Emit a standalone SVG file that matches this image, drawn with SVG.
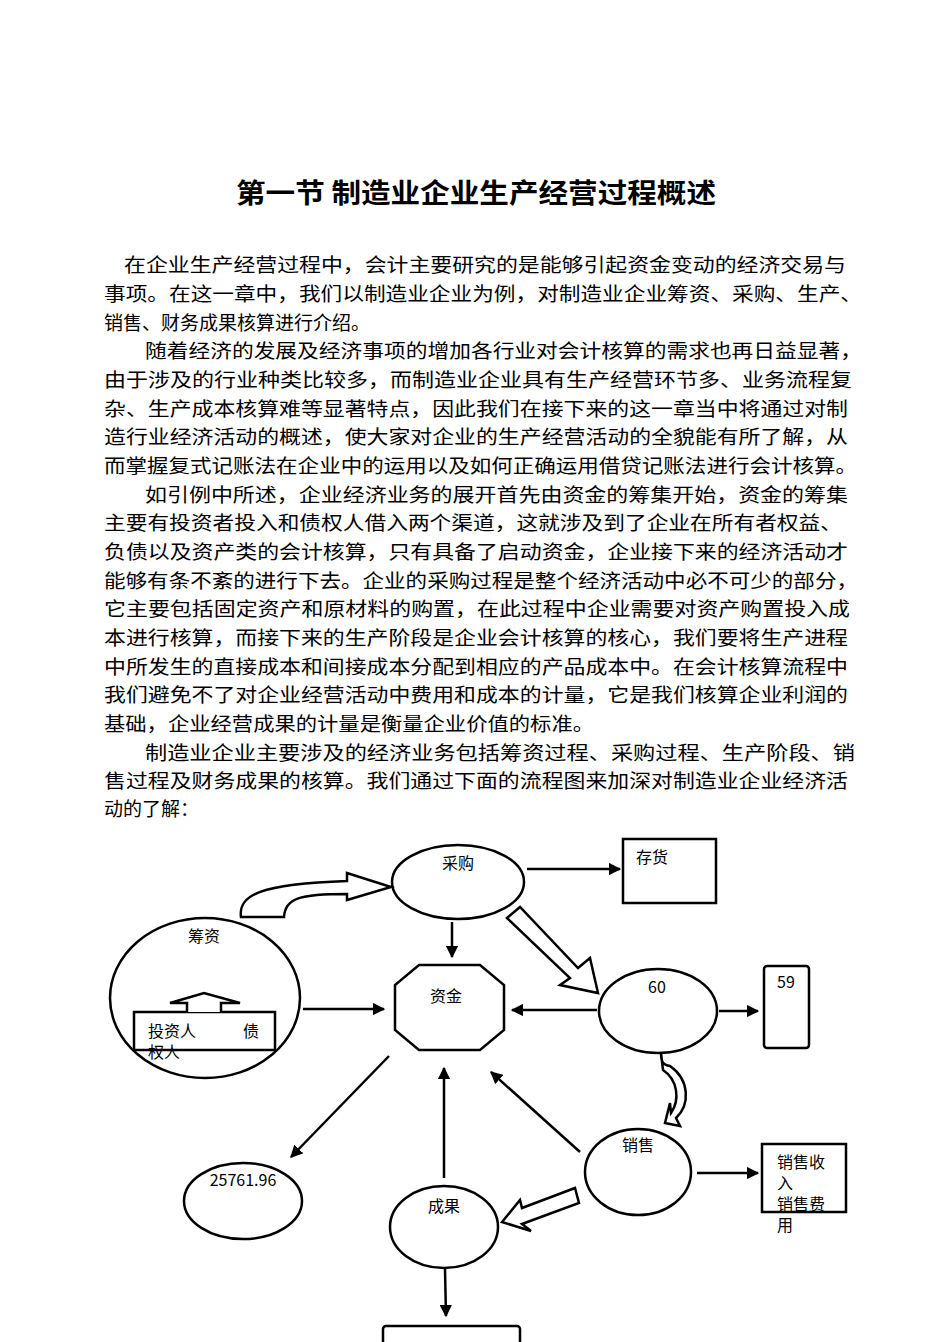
<svg xmlns="http://www.w3.org/2000/svg" width="950" height="1342" viewBox="0 0 950 1342">
<style>
.b{font-family:"Noto Sans CJK SC","Liberation Serif",serif;font-size:19px;fill:#000}
.t{font-family:"Noto Sans CJK SC",sans-serif;font-size:27px;font-weight:bold;fill:#000}
.n{font-family:"Noto Sans CJK SC","Liberation Serif",serif;font-size:16px;fill:#000}
.s{fill:#fff;stroke:#000;stroke-width:2.5}
.l{stroke:#000;stroke-width:2.5;fill:none}
</style>
<defs><marker id="a" viewBox="0 0 10 10" refX="9" refY="5" markerWidth="5" markerHeight="5" orient="auto"><path d="M0,0L10,5L0,10z" fill="#000"/></marker></defs>
<text class="t" x="236" y="203" textLength="480" lengthAdjust="spacingAndGlyphs">第一节 制造业企业生产经营过程概述</text>
<g class="b">
<text x="124" y="272" textLength="722" lengthAdjust="spacingAndGlyphs">在企业生产经营过程中，会计主要研究的是能够引起资金变动的经济交易与</text>
<text x="104" y="301" textLength="758" lengthAdjust="spacingAndGlyphs">事项。在这一章中，我们以制造业企业为例，对制造业企业筹资、采购、生产、</text>
<text x="104" y="330">销售、财务成果核算进行介绍。</text>
<text x="145" y="358" textLength="717" lengthAdjust="spacingAndGlyphs">随着经济的发展及经济事项的增加各行业对会计核算的需求也再日益显著，</text>
<text x="104" y="387" textLength="748" lengthAdjust="spacingAndGlyphs">由于涉及的行业种类比较多，而制造业企业具有生产经营环节多、业务流程复</text>
<text x="104" y="416" textLength="744" lengthAdjust="spacingAndGlyphs">杂、生产成本核算难等显著特点，因此我们在接下来的这一章当中将通过对制</text>
<text x="104" y="444" textLength="744" lengthAdjust="spacingAndGlyphs">造行业经济活动的概述，使大家对企业的生产经营活动的全貌能有所了解，从</text>
<text x="104" y="473" textLength="753" lengthAdjust="spacingAndGlyphs">而掌握复式记账法在企业中的运用以及如何正确运用借贷记账法进行会计核算。</text>
<text x="145" y="502" textLength="703" lengthAdjust="spacingAndGlyphs">如引例中所述，企业经济业务的展开首先由资金的筹集开始，资金的筹集</text>
<text x="104" y="530" textLength="738" lengthAdjust="spacingAndGlyphs">主要有投资者投入和债权人借入两个渠道，这就涉及到了企业在所有者权益、</text>
<text x="104" y="559" textLength="744" lengthAdjust="spacingAndGlyphs">负债以及资产类的会计核算，只有具备了启动资金，企业接下来的经济活动才</text>
<text x="104" y="588" textLength="754" lengthAdjust="spacingAndGlyphs">能够有条不紊的进行下去。企业的采购过程是整个经济活动中必不可少的部分，</text>
<text x="104" y="616" textLength="746" lengthAdjust="spacingAndGlyphs">它主要包括固定资产和原材料的购置，在此过程中企业需要对资产购置投入成</text>
<text x="104" y="645" textLength="744" lengthAdjust="spacingAndGlyphs">本进行核算，而接下来的生产阶段是企业会计核算的核心，我们要将生产进程</text>
<text x="104" y="674" textLength="744" lengthAdjust="spacingAndGlyphs">中所发生的直接成本和间接成本分配到相应的产品成本中。在会计核算流程中</text>
<text x="104" y="702" textLength="744" lengthAdjust="spacingAndGlyphs">我们避免不了对企业经营活动中费用和成本的计量，它是我们核算企业利润的</text>
<text x="104" y="731" textLength="490" lengthAdjust="spacingAndGlyphs">基础，企业经营成果的计量是衡量企业价值的标准。</text>
<text x="145" y="760" textLength="710" lengthAdjust="spacingAndGlyphs">制造业企业主要涉及的经济业务包括筹资过程、采购过程、生产阶段、销</text>
<text x="104" y="788" textLength="744" lengthAdjust="spacingAndGlyphs">售过程及财务成果的核算。我们通过下面的流程图来加深对制造业企业经济活</text>
<text x="104" y="816">动的了解：</text>
</g>
<g id="caigou"><ellipse class="s" cx="458" cy="882" rx="66" ry="37"/><text class="n" x="458" y="869" text-anchor="middle">采购</text></g>
<g id="cunhuo"><rect class="s" x="623" y="839" width="93" height="64"/><text class="n" x="636" y="863">存货</text></g>
<g id="chouzi"><ellipse class="s" cx="205" cy="998" rx="95" ry="80"/><text class="n" x="204" y="942" text-anchor="middle">筹资</text>
<rect class="s" x="134" y="1012" width="141" height="38"/>
<path class="s" d="M187,1012V1003H170L204,993L240,1003H221V1012"/>
<text class="n" x="148" y="1037">投资人</text><text class="n" x="243" y="1037">债</text><text class="n" x="148" y="1058">权人</text></g>
<g id="zijin"><path class="s" d="M419,965H480L504,985V1030L480,1050H419L395,1030V985Z"/><text class="n" x="446" y="1002" text-anchor="middle">资金</text></g>
<g id="n60"><ellipse class="s" cx="658" cy="1011" rx="59" ry="42"/><text class="n" x="657" y="993" text-anchor="middle">60</text></g>
<g id="n59"><rect class="s" x="764" y="966" width="45" height="82" rx="3"/><text class="n" x="786" y="988" text-anchor="middle">59</text></g>
<g id="xiaoshou"><ellipse class="s" cx="638" cy="1172" rx="53" ry="43"/><text class="n" x="638" y="1151" text-anchor="middle">销售</text></g>
<g id="shouru"><rect class="s" x="762" y="1144" width="84" height="68"/>
<text class="n" x="777" y="1168">销售收</text><text class="n" x="777" y="1189">入</text><text class="n" x="777" y="1210">销售费</text><text class="n" x="777" y="1231">用</text></g>
<g id="n25761"><ellipse class="s" cx="243" cy="1201" rx="59" ry="38"/><text class="n" x="243" y="1186" text-anchor="middle">25761.96</text></g>
<g id="chengguo"><ellipse class="s" cx="444" cy="1227" rx="54" ry="41"/><text class="n" x="444" y="1212" text-anchor="middle">成果</text></g>
<g id="bottom"><rect class="s" x="383" y="1326" width="137" height="30" rx="3"/></g>
<g id="connectors">
<path class="s" stroke-width="2" d="M241,917C238,895 260,884 347,881V873L391,887L347,900V894C300,894 285,898 284,917Z"/>
<line class="l" x1="303" y1="1009" x2="384" y2="1009" marker-end="url(#a)"/>
<line class="l" x1="452" y1="922" x2="452" y2="957" marker-end="url(#a)"/>
<line class="l" x1="527" y1="869" x2="620" y2="869" marker-end="url(#a)"/>
<path class="s" stroke-width="2" d="M507,918L520,907L578,968L590,958L598,993L560,985L570,978Z"/>
<line class="l" x1="597" y1="1010" x2="512" y2="1010" marker-end="url(#a)"/>
<line class="l" x1="719" y1="1011" x2="758" y2="1011" marker-end="url(#a)"/>
<path class="s" stroke-width="2" d="M661,1053C661,1062 663,1065 670,1066C690,1080 690,1105 676,1118L680,1126L665,1123L670,1103L671,1113C680,1100 678,1080 663,1070Z"/>
<line class="l" x1="580" y1="1152" x2="491" y2="1072" marker-end="url(#a)"/>
<line class="l" x1="697" y1="1173" x2="758" y2="1173" marker-end="url(#a)"/>
<line class="l" x1="444" y1="1178" x2="444" y2="1068" marker-end="url(#a)"/>
<line class="l" x1="389" y1="1056" x2="291" y2="1157" marker-end="url(#a)"/>
<path class="s" stroke-width="2" d="M575,1188L579,1203L522,1224L531,1231L502,1222L520,1200L522,1208Z"/>
<line class="l" x1="445" y1="1269" x2="446" y2="1316" marker-end="url(#a)"/>
</g>
</svg>
